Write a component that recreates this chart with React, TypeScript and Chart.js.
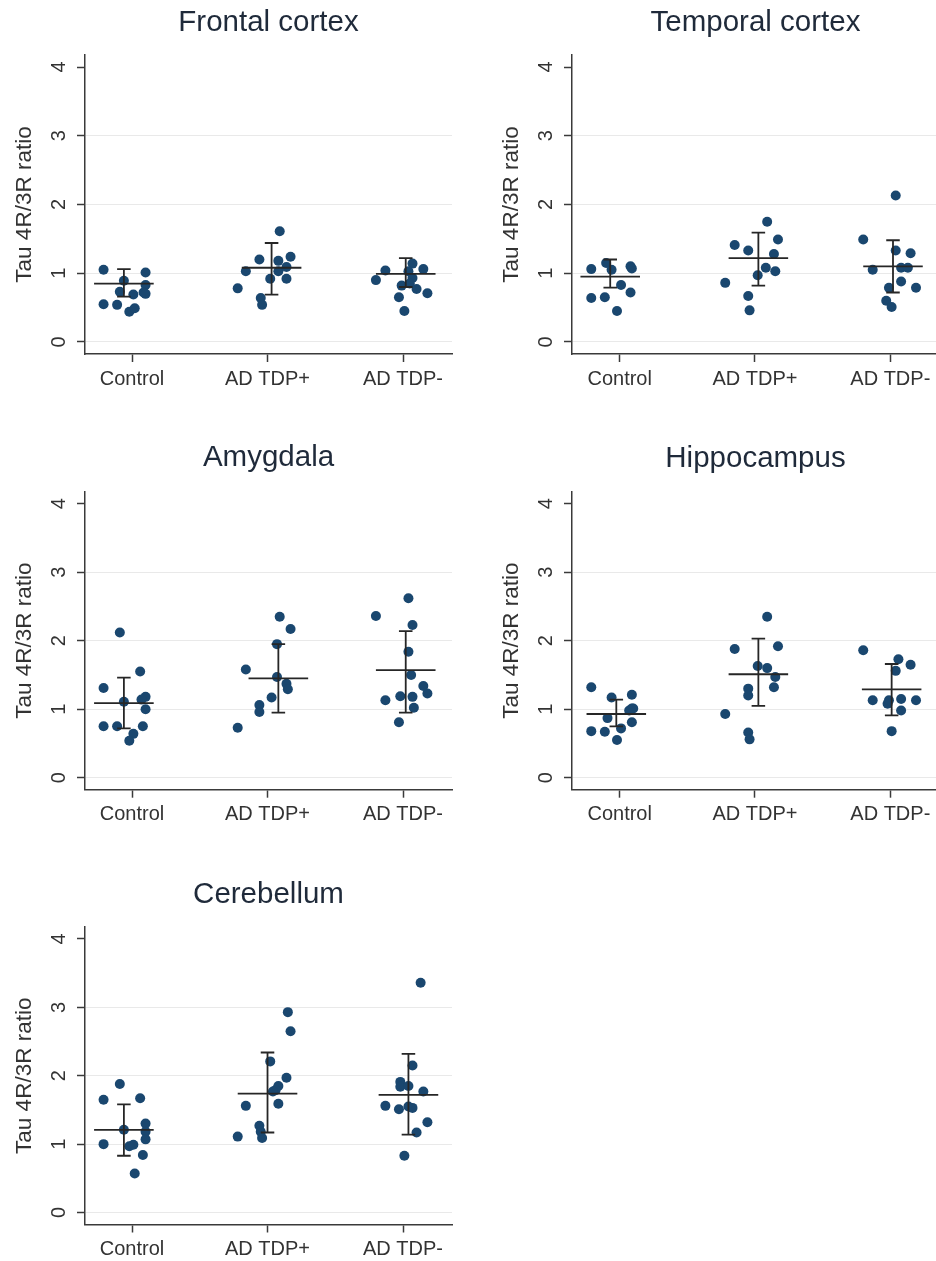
import React, { useEffect, useRef } from "react";
import { Chart, registerables } from "chart.js";

Chart.register(...registerables);

// ---------- data ----------
const categories = ["Control", "AD TDP+", "AD TDP-"];
const categoryTicks = [1, 2, 3];
const yTicks = [0, 1, 2, 3, 4];
const yAxisTitle = "Tau 4R/3R ratio";

// Frontal cortex
const frontalValues = [
  [1.05, 1.01, 0.89, 0.83, 0.73, 0.69, 0.72, 0.7, 0.55, 0.54, 0.44, 0.49],
  [1.61, 1.2, 1.24, 1.18, 1.03, 1.03, 1.09, 0.92, 0.92, 0.78, 0.64, 0.54],
  [0.9, 1.04, 1.14, 1.06, 1.03, 0.93, 0.85, 0.82, 0.77, 0.71, 0.65, 0.45],
];
const frontalJitter = [
  [-0.21, 0.1, -0.06, 0.1, -0.09, 0.01, 0.085, 0.1, -0.21, -0.11, -0.02, 0.02],
  [0.09, -0.06, 0.17, 0.08, -0.16, 0.08, 0.14, 0.02, 0.14, -0.22, -0.05, -0.04],
  [-0.2, -0.13, 0.07, 0.15, 0.04, 0.07, 0.05, -0.01, 0.1, 0.18, -0.03, 0.01],
];
const frontalMean = [0.85, 1.08, 0.99];
const frontalUpper = [1.06, 1.44, 1.22];
const frontalLower = [0.66, 0.69, 0.8];
const frontalShift = [-0.06, 0.03, 0.02];

// Temporal cortex
const temporalValues = [
  [1.06, 1.15, 1.05, 1.1, 1.07, 0.83, 0.72, 0.64, 0.65, 0.45],
  [1.75, 1.49, 1.41, 1.33, 1.28, 1.08, 1.03, 0.97, 0.86, 0.67, 0.46],
  [2.13, 1.49, 1.33, 1.29, 1.05, 1.08, 1.08, 0.88, 0.79, 0.79, 0.6, 0.51],
];
const temporalJitter = [
  [-0.21, -0.1, -0.06, 0.08, 0.09, 0.01, 0.08, -0.21, -0.11, -0.02],
  [0.09, 0.17, -0.15, -0.05, 0.14, 0.08, 0.15, 0.02, -0.22, -0.05, -0.04],
  [0.04, -0.2, 0.04, 0.15, -0.13, 0.08, 0.13, 0.08, -0.01, 0.19, -0.03, 0.01],
];
const temporalMean = [0.95, 1.22, 1.1];
const temporalUpper = [1.2, 1.59, 1.48];
const temporalLower = [0.79, 0.82, 0.72];
const temporalShift = [-0.07, 0.025, 0.02];

// Amygdala
const amygdalaValues = [
  [2.12, 1.31, 1.55, 1.11, 1.18, 1.14, 1.0, 0.75, 0.75, 0.75, 0.64, 0.54],
  [2.35, 2.17, 1.95, 1.58, 1.47, 1.37, 1.29, 1.17, 1.06, 0.96, 0.73],
  [2.62, 2.36, 2.23, 1.84, 1.5, 1.34, 1.23, 1.13, 1.19, 1.18, 1.02, 0.81],
];
const amygdalaJitter = [
  [-0.09, -0.21, 0.06, -0.06, 0.1, 0.07, 0.1, -0.21, -0.11, 0.08, 0.01, -0.02],
  [0.09, 0.17, 0.07, -0.16, 0.07, 0.14, 0.15, 0.03, -0.06, -0.06, -0.22],
  [0.04, -0.2, 0.07, 0.04, 0.06, 0.15, 0.18, -0.13, -0.02, 0.07, 0.08, -0.03],
];
const amygdalaMean = [1.09, 1.45, 1.57];
const amygdalaUpper = [1.46, 1.95, 2.14];
const amygdalaLower = [0.72, 0.95, 0.95];
const amygdalaShift = [-0.06, 0.08, 0.02];

// Hippocampus
const hippocampusValues = [
  [1.32, 1.17, 1.21, 1.01, 0.98, 1.01, 0.87, 0.81, 0.68, 0.67, 0.72, 0.55],
  [2.35, 1.92, 1.88, 1.63, 1.6, 1.47, 1.32, 1.3, 1.2, 0.93, 0.66, 0.56],
  [1.86, 1.73, 1.65, 1.56, 1.13, 1.08, 1.13, 1.15, 1.13, 0.98, 0.68],
];
const hippocampusJitter = [
  [-0.21, -0.06, 0.09, 0.09, 0.07, 0.1, -0.09, 0.09, -0.21, -0.11, 0.01, -0.02],
  [0.09, 0.17, -0.15, 0.02, 0.09, 0.15, 0.14, -0.05, -0.05, -0.22, -0.05, -0.04],
  [-0.2, 0.06, 0.15, 0.04, -0.13, -0.02, -0.01, 0.08, 0.19, 0.08, 0.01],
];
const hippocampusMean = [0.93, 1.51, 1.29];
const hippocampusUpper = [1.14, 2.03, 1.66];
const hippocampusLower = [0.75, 1.05, 0.91];
const hippocampusShift = [-0.025, 0.025, 0.01];

// Cerebellum
const cerebellumValues = [
  [1.88, 1.65, 1.67, 1.3, 1.21, 1.18, 1.07, 1.0, 0.97, 0.99, 0.84, 0.57],
  [2.93, 2.65, 2.21, 1.97, 1.85, 1.79, 1.77, 1.59, 1.56, 1.27, 1.18, 1.09, 1.11],
  [3.36, 2.15, 1.91, 1.84, 1.85, 1.77, 1.56, 1.51, 1.55, 1.53, 1.32, 1.17, 0.83],
];
const cerebellumJitter = [
  [-0.09, -0.21, 0.06, 0.1, -0.06, 0.1, 0.1, -0.21, -0.02, 0.01, 0.08, 0.02],
  [0.15, 0.17, 0.02, 0.14, 0.08, 0.06, 0.04, 0.08, -0.16, -0.06, -0.05, -0.04, -0.22],
  [0.13, 0.07, -0.02, -0.02, 0.04, 0.15, -0.13, -0.03, 0.04, 0.07, 0.18, 0.1, 0.01],
];
const cerebellumMean = [1.21, 1.74, 1.72];
const cerebellumUpper = [1.58, 2.34, 2.32];
const cerebellumLower = [0.83, 1.17, 1.14];
const cerebellumShift = [-0.06, 0.0, 0.04];

const regions = [
  { title: "Frontal cortex", values: frontalValues, jitter: frontalJitter, mean: frontalMean, upper: frontalUpper, lower: frontalLower, shift: frontalShift },
  { title: "Temporal cortex", values: temporalValues, jitter: temporalJitter, mean: temporalMean, upper: temporalUpper, lower: temporalLower, shift: temporalShift },
  { title: "Amygdala", values: amygdalaValues, jitter: amygdalaJitter, mean: amygdalaMean, upper: amygdalaUpper, lower: amygdalaLower, shift: amygdalaShift },
  { title: "Hippocampus", values: hippocampusValues, jitter: hippocampusJitter, mean: hippocampusMean, upper: hippocampusUpper, lower: hippocampusLower, shift: hippocampusShift },
  { title: "Cerebellum", values: cerebellumValues, jitter: cerebellumJitter, mean: cerebellumMean, upper: cerebellumUpper, lower: cerebellumLower, shift: cerebellumShift },
];

// ---------- layout / style ----------
const FONT = "'Liberation Sans', Arial, Helvetica, sans-serif";
const MARKER = "#1a476f";
const LINE = "#262626";
const AXIS = "#3a3a3a";
const GRID = "#e9e9e9";
const TEXT = "#333333";
const TITLE = "#1f2a3a";
const MEAN_HALF = 0.22;
const CAP_HALF = 0.05;
const Y_MIN = -0.175;
const Y_MAX = 4.175;

// left column: plot from x=85 to x=452; right column: plot from x=572 past the page edge (939)
const leftCol = { left: 0, width: 468, axisX: 85, plotRight: 452, xMin: 0.653, xMax: 3.3615 };
const rightCol = { left: 468, width: 485, axisX: 104, plotRight: 471, xMin: 0.6475, xMax: 3.36 };

const panelLayouts = [
  { ...leftCol, top: 0, height: 430, plotTop: 55, plotBottom: 354, titleY: 22.5 },
  { ...rightCol, top: 0, height: 430, plotTop: 55, plotBottom: 354, titleY: 23 },
  { ...leftCol, top: 430, height: 430, plotTop: 61.7, plotBottom: 359.7, titleY: 28 },
  { ...rightCol, top: 430, height: 430, plotTop: 61.7, plotBottom: 359.7, titleY: 29 },
  { ...leftCol, top: 860, height: 401, plotTop: 67, plotBottom: 364.5, titleY: 35 },
];

type Region = (typeof regions)[number];
type Layout = (typeof panelLayouts)[number];

function buildConfig(region: Region, layout: Layout): any {
  const points: { x: number; y: number }[] = [];
  region.values.forEach((vals, g) => {
    vals.forEach((v, i) => {
      points.push({ x: g + 1 + region.jitter[g][i], y: v });
    });
  });

  const summary: { x: number; y: number | null }[] = [];
  region.mean.forEach((m, g) => {
    const cx = g + 1 + region.shift[g];
    const lo = region.lower[g];
    const hi = region.upper[g];
    summary.push(
      { x: cx - MEAN_HALF, y: m }, { x: cx + MEAN_HALF, y: m }, { x: cx, y: null },
      { x: cx, y: lo }, { x: cx, y: hi }, { x: cx, y: null },
      { x: cx - CAP_HALF, y: lo }, { x: cx + CAP_HALF, y: lo }, { x: cx, y: null },
      { x: cx - CAP_HALF, y: hi }, { x: cx + CAP_HALF, y: hi }, { x: cx, y: null }
    );
  });

  const titleFont = 29.5;
  const titleLH = titleFont * 1.2;
  const titlePadTop = layout.titleY - titleLH / 2;
  const titlePadBottom = layout.plotTop - titlePadTop - titleLH;
  const yTitleFont = 22.5;
  const yTitlePad = layout.axisX - 60.5 - (yTitleFont * 1.2) / 2;
  const xAxisHeight = layout.height - layout.plotBottom;

  return {
    type: "scatter",
    data: {
      datasets: [
        {
          data: summary,
          showLine: true,
          spanGaps: false,
          borderColor: LINE,
          borderWidth: 1.8,
          pointRadius: 0,
          pointHoverRadius: 0,
          order: 0,
        },
        {
          data: points,
          backgroundColor: MARKER,
          borderColor: MARKER,
          borderWidth: 0,
          pointRadius: 5,
          pointHoverRadius: 5,
          order: 1,
        },
      ],
    },
    options: {
      animation: false,
      responsive: false,
      devicePixelRatio: 1,
      events: [],
      layout: { padding: { left: 0, top: 0, bottom: 0, right: layout.width - layout.plotRight } },
      plugins: {
        legend: { display: false },
        tooltip: { enabled: false },
        title: {
          display: true,
          text: region.title,
          fullSize: false,
          color: TITLE,
          font: { family: FONT, size: titleFont, weight: "normal" },
          padding: { top: titlePadTop, bottom: titlePadBottom },
        },
      },
      scales: {
        x: {
          type: "linear",
          min: layout.xMin,
          max: layout.xMax,
          afterBuildTicks: (scale: any) => {
            scale.ticks = categoryTicks.map((v) => ({ value: v }));
          },
          afterFit: (scale: any) => {
            scale.height = xAxisHeight;
          },
          ticks: {
            autoSkip: false,
            maxRotation: 0,
            minRotation: 0,
            padding: 5,
            color: TEXT,
            font: { family: FONT, size: 20 },
            callback: (v: number) => categories[Math.round(v) - 1] ?? "",
          },
          grid: {
            display: true,
            drawOnChartArea: false,
            drawTicks: true,
            tickLength: 8,
            tickColor: AXIS,
            tickWidth: 1.5,
          },
          border: { display: true, color: AXIS, width: 1.5 },
        },
        y: {
          type: "linear",
          min: Y_MIN,
          max: Y_MAX,
          afterBuildTicks: (scale: any) => {
            scale.ticks = yTicks.map((v) => ({ value: v }));
          },
          afterFit: (scale: any) => {
            scale.width = layout.axisX;
          },
          ticks: {
            minRotation: 90,
            maxRotation: 90,
            crossAlign: "center",
            padding: 12,
            color: TEXT,
            font: { family: FONT, size: 20 },
            callback: (v: number) => String(v),
          },
          grid: {
            display: true,
            drawOnChartArea: true,
            drawTicks: true,
            tickLength: 8,
            lineWidth: 1,
            color: (ctx: any) => (ctx.tick && ctx.tick.value === yTicks[yTicks.length - 1] ? "rgba(0,0,0,0)" : GRID),
            tickColor: AXIS,
            tickWidth: 1.5,
          },
          border: { display: true, color: AXIS, width: 1.5 },
          title: {
            display: true,
            text: yAxisTitle,
            color: TEXT,
            font: { family: FONT, size: yTitleFont },
            padding: { top: yTitlePad, bottom: 0 },
          },
        },
      },
    },
  };
}

function Panel({ region, layout }: { region: Region; layout: Layout }) {
  const ref = useRef<HTMLCanvasElement>(null);
  useEffect(() => {
    if (!ref.current) return;
    const chart = new Chart(ref.current, buildConfig(region, layout));
    return () => chart.destroy();
  }, [region, layout]);
  return (
    <canvas
      ref={ref}
      width={layout.width}
      height={layout.height}
      style={{
        position: "absolute",
        left: layout.left,
        top: layout.top,
        width: layout.width,
        height: layout.height,
      }}
    />
  );
}

export default function App() {
  return (
    <div
      style={{
        position: "absolute",
        left: 0,
        top: 0,
        width: 936,
        height: 1261,
        background: "#ffffff",
        overflow: "hidden",
      }}
    >
      {regions.map((r, i) => (
        <Panel key={r.title} region={r} layout={panelLayouts[i]} />
      ))}
    </div>
  );
}
